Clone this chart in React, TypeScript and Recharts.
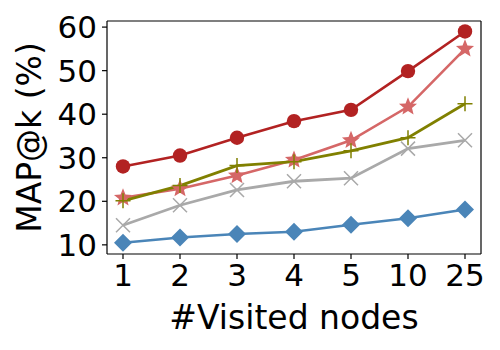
import { LineChart, Line, XAxis, YAxis, CartesianGrid } from "recharts";

const visited = ["1", "2", "3", "4", "5", "10", "25"];
const seriesCircle = [28.0, 30.5, 34.6, 38.4, 41.0, 49.9, 59.0];
const seriesStar = [20.8, 22.9, 25.9, 29.5, 34.0, 41.7, 55.0];
const seriesPlus = [20.1, 23.6, 28.2, 29.1, 31.6, 34.6, 42.4];
const seriesCross = [14.5, 19.1, 22.6, 24.6, 25.3, 32.1, 34.0];
const seriesDiamond = [10.5, 11.7, 12.5, 13.0, 14.6, 16.1, 18.1];
const yTicks = [10, 20, 30, 40, 50, 60];

const data = visited.map((v, i) => ({
  k: v,
  circle: seriesCircle[i],
  star: seriesStar[i],
  plus: seriesPlus[i],
  cross: seriesCross[i],
  diamond: seriesDiamond[i],
}));

const FONT = "DejaVu Sans";

function starPath(cx: number, cy: number, R: number, r: number) {
  let d = "";
  for (let i = 0; i < 10; i++) {
    const rad = i % 2 === 0 ? R : r;
    const a = -Math.PI / 2 + (i * Math.PI) / 5;
    d += (i === 0 ? "M" : "L") + (cx + rad * Math.cos(a)) + "," + (cy + rad * Math.sin(a));
  }
  return d + "Z";
}

const circleDot = (p: any) => (
  <circle key={p.index} cx={p.cx} cy={p.cy} r={7.2} fill="#b22222" />
);
const starDot = (p: any) => (
  <path key={p.index} d={starPath(p.cx, p.cy, 9.5, 4.2)} fill="#d56767" />
);
const plusDot = (p: any) => (
  <path
    key={p.index}
    d={`M${p.cx - 7.5},${p.cy}H${p.cx + 7.5}M${p.cx},${p.cy - 7.5}V${p.cy + 7.5}`}
    stroke="#808000"
    strokeWidth={1.5}
    fill="none"
  />
);
const crossDot = (p: any) => (
  <path
    key={p.index}
    d={`M${p.cx - 7},${p.cy - 7}L${p.cx + 7},${p.cy + 7}M${p.cx - 7},${p.cy + 7}L${p.cx + 7},${p.cy - 7}`}
    stroke="#a9a9a9"
    strokeWidth={1.5}
    fill="none"
  />
);
const diamondDot = (p: any) => (
  <path
    key={p.index}
    d={`M${p.cx},${p.cy - 9}L${p.cx + 9},${p.cy}L${p.cx},${p.cy + 9}L${p.cx - 9},${p.cy}Z`}
    fill="#4a85b8"
  />
);

const tickStyle = { fontSize: 31, fill: "#000", fontFamily: FONT };

export default function App() {
  return (
    <div style={{ position: "absolute", left: 0, top: 0, width: 500, height: 350, background: "#fff" }}>
      <LineChart
        width={500}
        height={350}
        data={data}
        margin={{ top: 21, right: 19, bottom: 0, left: 0 }}
      >
        {/* top and right frame lines */}
        <CartesianGrid
          stroke="#000"
          strokeWidth={1.2}
          horizontalCoordinatesGenerator={({ offset }: any) => [offset.top]}
          verticalCoordinatesGenerator={({ offset }: any) => [offset.left + offset.width]}
        />
        <XAxis
          dataKey="k"
          height={96}
          padding={{ left: 16, right: 16 }}
          tick={tickStyle}
          tickSize={5}
          tickMargin={5}
          stroke="#000"
          strokeWidth={1.2}
          interval={0}
          label={{
            value: "#Visited nodes",
            position: "insideBottom",
            offset: 21,
            style: { fontSize: 33, fill: "#000", fontFamily: FONT },
          }}
        />
        <YAxis
          width={107}
          domain={[7.9, 61.4]}
          ticks={yTicks}
          allowDataOverflow
          tick={tickStyle}
          tickSize={5}
          tickMargin={5}
          stroke="#000"
          strokeWidth={1.2}
          interval={0}
          label={{
            value: "MAP@k (%)",
            angle: -90,
            position: "insideLeft",
            offset: 0,
            dx: 29,
            style: { fontSize: 33, fill: "#000", fontFamily: FONT, textAnchor: "middle" },
          }}
        />
        <Line dataKey="star" stroke="#d56767" strokeWidth={2.6} dot={starDot} activeDot={false} isAnimationActive={false} />
        <Line dataKey="plus" stroke="#808000" strokeWidth={2.8} dot={plusDot} activeDot={false} isAnimationActive={false} />
        <Line dataKey="cross" stroke="#a9a9a9" strokeWidth={2.8} dot={crossDot} activeDot={false} isAnimationActive={false} />
        <Line dataKey="circle" stroke="#b22222" strokeWidth={2.6} dot={circleDot} activeDot={false} isAnimationActive={false} />
        <Line dataKey="diamond" stroke="#4a85b8" strokeWidth={2.6} dot={diamondDot} activeDot={false} isAnimationActive={false} />
      </LineChart>
    </div>
  );
}
